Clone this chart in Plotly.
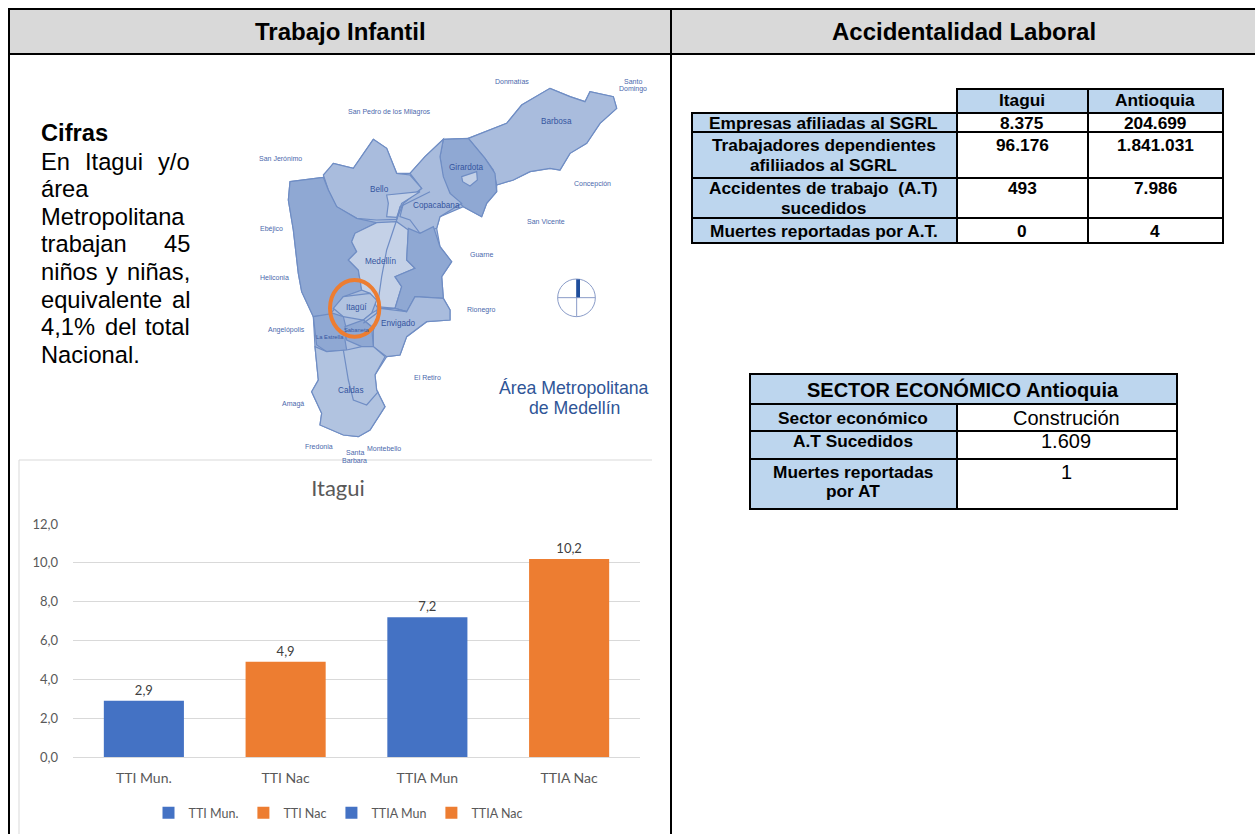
import plotly.graph_objects as go

# ---------- chart data ----------
categories = ["TTI Mun.", "TTI Nac", "TTIA Mun", "TTIA Nac"]
values = [2.9, 4.9, 7.2, 10.2]
bar_colors = ["#4472C4", "#ED7D31", "#4472C4", "#ED7D31"]
tick_values = [0, 2, 4, 6, 8, 10, 12]

# ---------- table text ----------
table1_header = ["Itagui", "Antioquia"]
table1_rows = [
    (["Empresas afiliadas al SGRL"], "8.375", "204.699"),
    (["Trabajadores dependientes", "afiliiados al SGRL"], "96.176", "1.841.031"),
    (["Accidentes de trabajo  (A.T)", "sucedidos"], "493", "7.986"),
    (["Muertes reportadas por A.T."], "0", "4"),
]
table2_title = "SECTOR ECONÓMICO Antioquia"
table2_rows = [
    (["Sector económico"], "Construción"),
    (["A.T Sucedidos"], "1.609"),
    (["Muertes reportadas", "por AT"], "1"),
]
cifras_lines = [["Cifras"], ["En", "Itagui", "y/o"], ["área"], ["Metropolitana"], ["trabajan", "45"],
                ["niños", "y", "niñas,"], ["equivalente", "al"], ["4,1%", "del", "total"], ["Nacional."]]

# ---------- map illustration (outline points in image pixels of the 3x map crop) ----------
C_MID, C_DARK, C_LIGHT, C_SOFT = "#A9BCDD", "#8FA8D3", "#C4D1E7", "#B1C3E0"
map_silhouette = [(180,365),(280,352),(310,310),(370,325),(430,238),(470,265),(500,340),(540,340),(585,290),(640,238),(715,235),(830,190),(875,135),(960,85),(1020,110),(1065,125),(1080,95),(1150,110),(1160,145),(1110,190),(1070,250),(1020,280),(990,330),(960,325),(900,335),(850,360),(800,375),(800,395),(770,430),(755,470),(700,440),(630,470),(620,505),(630,560),(665,605),(635,650),(640,715),(660,750),(660,780),(590,785),(530,830),(510,885),(470,890),(435,945),(440,990),(465,1040),(420,1110),(385,1130),(340,1125),(270,1095),(275,1060),(245,995),(265,960),(255,860),(250,770),(215,695),(205,640),(190,510),(175,420)]
map_regions = [
    (C_MID, map_silhouette),
    (C_MID, [(715,235),(830,190),(875,135),(960,85),(1020,110),(1065,125),(1080,95),(1150,110),(1160,145),(1110,190),(1070,250),(1020,280),(990,330),(960,325),(900,335),(850,360),(800,375),(790,330),(765,295),(740,265)]),
    (C_DARK, [(630,290),(640,238),(715,235),(740,265),(765,295),(795,340),(800,395),(770,430),(755,470),(700,440),(660,400),(640,360)]),
    (C_MID, [(540,340),(585,290),(640,238),(630,290),(640,350),(660,400),(695,430),(630,470),(620,505),(570,520),(540,480),(510,470),(520,430),(575,385)]),
    (C_MID, [(280,345),(310,310),(370,325),(430,238),(470,265),(500,340),(540,345),(575,385),(520,430),(500,478),(440,480),(380,475),(320,440),(295,390)]),
    (C_LIGHT, [(470,405),(570,395),(515,430),(500,472),(470,470),(475,430)]),
    (C_DARK, [(180,365),(280,352),(295,390),(320,440),(380,475),(440,488),(375,520),(365,545),(380,575),(355,600),(385,630),(395,690),(340,710),(300,765),(250,770),(215,695),(205,640),(190,510),(175,420)]),
    (C_LIGHT, [(440,488),(500,485),(535,510),(530,600),(555,625),(495,650),(515,680),(495,745),(440,740),(420,700),(395,690),(385,630),(355,600),(380,575),(365,545),(375,520)]),
    (C_DARK, [(535,505),(570,520),(610,500),(630,560),(665,605),(635,650),(640,715),(555,710),(530,755),(495,745),(515,680),(495,650),(555,625),(530,600)]),
    (C_MID, [(495,745),(530,755),(555,710),(640,715),(660,750),(660,780),(590,785),(530,830),(510,885),(470,890),(430,860),(430,810),(440,775),(450,745)]),
    (C_SOFT, [(310,745),(340,710),(420,700),(440,720),(425,760),(400,780),(340,770)]),
    (C_SOFT, [(425,760),(450,745),(440,775),(430,810),(425,800),(400,780)]),
    (C_DARK, [(250,770),(310,760),(340,770),(350,810),(345,840),(350,870),(290,875),(260,855)]),
    (C_DARK, [(345,800),(400,780),(425,800),(430,860),(395,860),(350,840)]),
    (C_SOFT, [(255,860),(290,875),(350,870),(395,860),(430,860),(465,890),(435,945),(440,990),(465,1040),(420,1110),(385,1130),(340,1125),(270,1095),(275,1060),(245,995),(265,960)]),
    (C_LIGHT, [(695,350),(740,335),(742,360),(720,378),(698,365)]),
]
map_roads = [
    [(500,480),(470,570),(455,650),(445,720),(440,760),(400,790)],
    [(340,870),(355,960),(370,1020),(410,1035),(445,995)],
    [(500,480),(510,440),(600,395)],
    [(450,745),(530,755)],
]
map_labels = [
    ("Donmatías",845,64,0), ("Santo",1210,64,0), ("Domingo",1210,88,0),
    ("San Pedro de los Milagros",478,155,0), ("San Jerónimo",151,294,0),
    ("Concepción",1088,372,0), ("San Vicente",947,483,0), ("Ebéjico",124,506,0),
    ("Guarne",755,582,0), ("Heliconia",133,652,0), ("Rionegro",755,749,0),
    ("Angelópolis",168,810,0), ("El Retiro",593,952,0), ("Amagá",190,1033,0),
    ("Fredonia",267,1158,0), ("Montebello",462,1164,0), ("Santa",374,1178,0), ("Barbara",374,1202,0),
    ("Barbosa",980,185,1), ("Girardota",708,322,1), ("Bello",447,390,1),
    ("Copacabana",618,435,1), ("Medellín",452,603,1), ("Itagüí",378,743,1),
    ("Envigado",505,790,1), ("La Estrella",300,830,2), ("Sabaneta",380,810,2), ("Caldas",362,990,1),
]

W, H = 1255, 834
MT, MB = 24, 24   # vertical margins that absorb the legend's automargin push
def X(px): return px / W
def Y(py): return 1 - (py - MT) / (H - MT - MB)
def MX(z): return 230 + z / 3
def MY(z): return 60 + z / 3

shapes, annotations = [], []
def rect(x0, y0, x1, y1, fill="rgba(0,0,0,0)", line=None, lw=0):
    shapes.append(dict(type="rect", xref="paper", yref="paper", x0=X(x0), x1=X(x1), y0=Y(y0), y1=Y(y1),
                       fillcolor=fill, line=dict(color=line or "rgba(0,0,0,0)", width=lw), layer="below"))
def hline(x0, x1, y, color="#000", lw=2):
    shapes.append(dict(type="line", xref="paper", yref="paper", x0=X(x0), x1=X(x1), y0=Y(y), y1=Y(y), line=dict(color=color, width=lw), layer="below"))
def vline(x, y0, y1, color="#000", lw=2):
    shapes.append(dict(type="line", xref="paper", yref="paper", x0=X(x), x1=X(x), y0=Y(y0), y1=Y(y1), line=dict(color=color, width=lw), layer="below"))
def text(px, py, s, size=14, color="#000", bold=False, anchor="center", font="Liberation Sans"):
    annotations.append(dict(xref="paper", yref="paper", x=X(px), y=Y(py), text=f"<b>{s}</b>" if bold else s,
                            showarrow=False, xanchor=anchor, yanchor="middle", borderpad=0,
                            font=dict(family=font, size=size, color=color)))

# ---------- page frame ----------
rect(9, 9, 1255, 54, fill="#D9D9D9")
hline(8, 1255, 9); hline(8, 1255, 54)
vline(9, 8, 834); vline(671, 8, 834)
text(340, 32, "Trabajo Infantil", 24, bold=True)
text(964, 32, "Accidentalidad Laboral", 24, bold=True)

# ---------- justified text ----------
BODY = 23.7
line_y = [133, 162, 189, 217, 244, 272, 300, 327, 355]
mid_word_x = {"Itagui": 114, "y": 112, "del": 120.5}
for words, y in zip(cifras_lines, line_y):
    if words == ["Cifras"]:
        text(40, y, "Cifras", BODY, bold=True, anchor="left")
    elif len(words) == 1:
        text(40, y, words[0], BODY, anchor="left")
    else:
        text(40, y, words[0], BODY, anchor="left")
        text(191, y, words[-1], BODY, anchor="right")
        if len(words) == 3:
            text(mid_word_x[words[1]], y, words[1], BODY)

# ---------- table 1 ----------
BLUE = "#BDD6EE"
T1 = 17.3
rect(957, 89, 1223, 113, fill=BLUE)
rect(692, 113, 957, 243, fill=BLUE)
for y in [113, 132, 178, 218, 243]:
    hline(692, 1223, y)
hline(957, 1223, 89)
for x in [957, 1088, 1223]:
    vline(x, 88, 244)
vline(692, 112, 244)
text(1022, 100, table1_header[0], T1, bold=True)
text(1155, 100, table1_header[1], T1, bold=True)
row_text_y = [[123], [145, 165], [188, 208], [231]]
for (labels, a, b), ys in zip(table1_rows, row_text_y):
    for lab, y in zip(labels, ys):
        text(824, y, lab, T1, bold=True)
    text(1022, ys[0], a, T1, bold=True)
    text(1155, ys[0], b, T1, bold=True)

# ---------- table 2 ----------
rect(750, 374, 1177, 404, fill=BLUE)
rect(750, 404, 957, 509, fill=BLUE)
for y in [374, 404, 431, 459, 509]:
    hline(750, 1177, y)
vline(750, 373, 510); vline(1177, 373, 510); vline(957, 404, 510)
text(963, 389, table2_title, 20, bold=True)
t2_y = [[418], [441], [472, 491]]
for (labels, val), ys in zip(table2_rows, t2_y):
    for lab, y in zip(labels, ys):
        text(853, y, lab, T1, bold=True)
    text(1066, ys[0], val, 20)

# ---------- chart box (only the top and left edges show in the page) ----------
hline(19, 652, 460, "#D9D9D9", 1)
vline(19, 460, 834, "#D9D9D9", 1)

# ---------- map ----------
for color, pts in map_regions:
    path = "M " + " L ".join(f"{X(MX(x)):.5f},{Y(MY(y)):.5f}" for x, y in pts) + " Z"
    shapes.append(dict(type="path", xref="paper", yref="paper", path=path, fillcolor=color,
                       line=dict(color="#6F8DC4", width=1.2), layer="above"))
for pts in map_roads:
    path = "M " + " L ".join(f"{X(MX(x)):.5f},{Y(MY(y)):.5f}" for x, y in pts)
    shapes.append(dict(type="path", xref="paper", yref="paper", path=path, line=dict(color="#6F8DC4", width=1.2), layer="above"))
for s, zx, zy, kind in map_labels:
    size = {0: 7, 1: 8.2, 2: 5.8}[kind]
    text(MX(zx), MY(zy), s, size, color="#4A68AC" if kind == 0 else "#35559F")
# orange ring
shapes.append(dict(type="circle", xref="paper", yref="paper", x0=X(MX(300)), x1=X(MX(448)), y0=Y(MY(830)), y1=Y(MY(660)),
                   line=dict(color="#ED7D31", width=4), layer="above"))
# north symbol
shapes.append(dict(type="circle", xref="paper", yref="paper", x0=X(MX(983)), x1=X(MX(1096)), y0=Y(MY(770)), y1=Y(MY(657)),
                   line=dict(color="#8A9CC8", width=1), layer="above"))
for (a, b, c, d) in [(983, 713, 1096, 713), (1040, 657, 1040, 770)]:
    shapes.append(dict(type="line", xref="paper", yref="paper", x0=X(MX(a)), x1=X(MX(c)), y0=Y(MY(b)), y1=Y(MY(d)),
                       line=dict(color="#8A9CC8", width=1), layer="above"))
shapes.append(dict(type="rect", xref="paper", yref="paper", x0=X(MX(1039)), x1=X(MX(1050)), y0=Y(MY(712)), y1=Y(MY(658)),
                   fillcolor="#1F4E9C", line=dict(width=0), layer="above"))
text(574, 388, "Área Metropolitana", 17.7, color="#2F5597")
text(574, 408, "de Medellín", 17.7, color="#2F5597")

# ---------- bar chart ----------
fig = go.Figure()
for c, v, col in zip(categories, values, bar_colors):
    fig.add_trace(go.Bar(x=[c], y=[v], name=c, width=0.565, marker=dict(color=col, line=dict(width=0)),
                         texttemplate="%{y:.1f}", textposition="outside", cliponaxis=False,
                         textfont=dict(family="Lato", size=13, color="#404040")))

fig.update_layout(
    width=W, height=H, margin=dict(l=0, r=0, t=MT, b=MB), paper_bgcolor="rgba(0,0,0,0)", plot_bgcolor="rgba(0,0,0,0)",
    barmode="overlay", separators=",.",
    shapes=shapes, annotations=annotations,
    xaxis=dict(domain=[X(73), X(640)], categoryorder="array", categoryarray=categories, showline=True, linecolor="#D9D9D9",
               linewidth=1, ticks="", ticklabelstandoff=8, tickfont=dict(family="Lato", size=14, color="#595959"), showgrid=False, anchor="y"),
    yaxis=dict(domain=[Y(757), Y(524)], range=[0, 12], tickvals=tick_values, tickformat=".1f", gridcolor="#D9D9D9", gridwidth=1,
               zeroline=False, showline=False, ticks="", ticklabelstandoff=14, tickfont=dict(family="Lato", size=13, color="#595959"), anchor="x"),
    title=dict(text="Itagui", xref="paper", x=X(338), xanchor="center", yref="container", y=1 - 488 / H, yanchor="middle",
               font=dict(family="Lato", size=22, color="#595959")),
    legend=dict(orientation="h", x=X(338), xanchor="center", y=Y(813), yanchor="middle", font=dict(family="Lato", size=12.5, color="#595959"),
                itemwidth=30, traceorder="normal", bgcolor="rgba(0,0,0,0)"),
    showlegend=True,
)
fig.write_html("out.html", post_script="document.body.style.margin='0';", config=dict(displayModeBar=False))
